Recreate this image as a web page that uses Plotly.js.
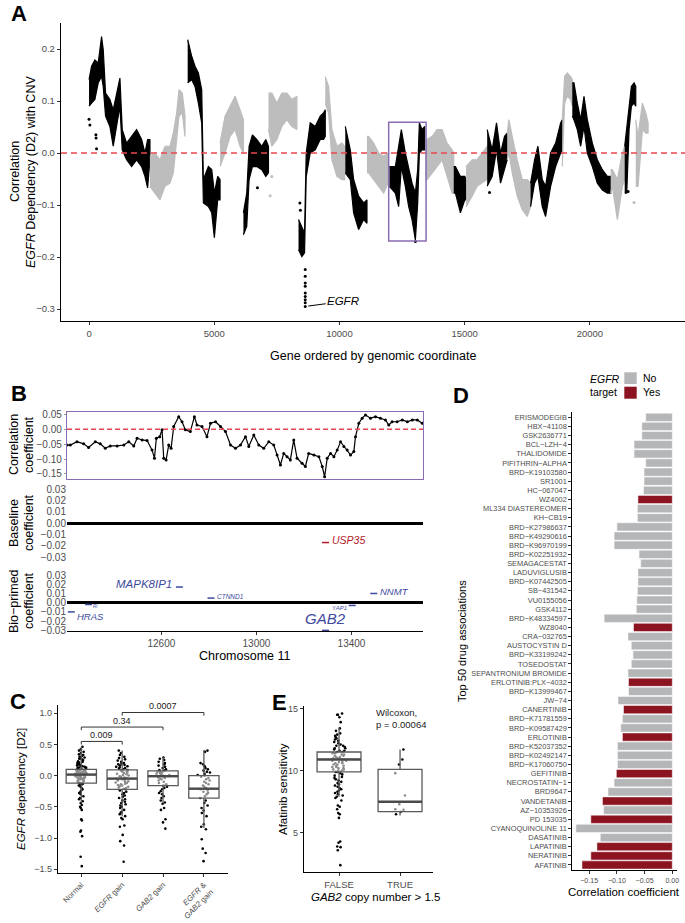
<!DOCTYPE html>
<html><head><meta charset="utf-8">
<script src="https://cdn.plot.ly/plotly-3.0.1.min.js"></script>
<style>html,body{margin:0;padding:0;background:#fff}#chart{width:685px;height:923px}</style>
</head><body><div id="chart"></div>
<script>
// ================= DATA =================
// Panel A: genome-wide correlation, read as band (upper / lower edge) per chromosome segment
const segA = [0,0,0,0,0,0,0,0,0,0,0,0,0,0,0,0,0,0,0,
 1,1,1,1,1,1,1,1,1,1,
 2,2,2,2,2,2,2,2,2,2,2,
 3,3,3,3,3,3,
 4,4,4,4,4,4,4,4,
 5,5,5,5,5,5,5,
 6,6,6,6,6,6,6,6,6,
 7,7,7,7,7,7,
 8,8,8,8,8,8,
 9,9,9,9,9,9,
 10,10,10,10,10,10,10,10,10,10,10,10,
 11,11,11,11,11,11,11,11,
 12,12,12,12,12,
 13,13,13,13,13,
 14,14,14,14,14,14,
 15,15,15,15,15,15,15,
 16,16,16,16,16,16,16,16,16,
 17,17,17,17,17,
 18,18,18,18,18,18,18,18,18,18,18,
 19,19,19,19,19,
 20,20,20,20,20,20,
 21,21,21,21,21];
const geneA = [0,100,233,366,500,566,660,833,966,1100,1233,1326,1500,1700,1899,2099,2233,2339,2432,
 2432,2632,2832,3032,3232,3366,3499,3592,3725,3832,
 3939,4099,4232,4366,4499,4566,4765,4899,5005,5138,5232,
 5232,5432,5632,5832,6032,6165,
 6165,6298,6392,6525,6698,6898,7058,7165,
 7165,7300,7500,7700,7900,8100,8300,
 8366,8500,8606,8673,8833,9033,9233,9366,9433,
 9433,9566,9699,9899,10099,10206,
 10233,10433,10566,10766,10966,11099,
 11099,11166,11366,11566,11766,11939,
 11992,12232,12365,12472,12632,12765,12899,13032,13125,13192,13299,13406,
 13432,13499,13699,13899,14099,14299,14499,14565,
 14565,14632,14832,15005,15058,
 15058,15298,15498,15698,15898,
 15900,16100,16273,16433,16593,16700,
 16700,16766,16900,17100,17300,17500,17633,
 17633,17793,17926,18099,18233,18433,18633,18833,18899,
 18899,18993,19099,19233,19299,
 19299,19366,19499,19633,19766,19899,20099,20299,20499,20699,20832,
 20832,20899,21099,21299,21392,
 21392,21473,21566,21659,21766,21833,
 21833,21926,22099,22233,22326];
const hiA = [0.141,0.167,0.179,0.173,0.224,0.199,0.115,0.103,0.083,0.115,0.144,0.045,0.019,0.032,0.045,0.026,0.0,0.026,0.026,
 -0.006,0.0,-0.013,0.013,0.013,0.038,0.077,0.122,0.115,0.071,
 0.218,0.186,0.167,0.154,0.122,-0.051,-0.026,-0.032,-0.077,-0.045,-0.051,
 0.019,0.071,0.090,0.109,0.083,0.064,
 -0.115,-0.077,0.013,0.035,0.026,0.013,0.026,0.013,
 0.115,0.115,0.096,0.115,0.115,0.103,0.109,
 -0.128,-0.141,-0.154,0.0,0.058,0.051,0.071,0.077,0.083,
 0.147,0.128,0.045,0.013,0.019,0.013,
 0.051,0.006,-0.051,-0.083,-0.096,-0.090,
 0.032,0.032,0.019,0.0,-0.006,0.0,
 -0.026,-0.026,0.013,0.045,0.0,-0.032,-0.058,-0.077,-0.032,0.058,0.045,0.051,
 0.026,0.026,0.032,0.045,0.045,0.019,0.006,0.0,
 -0.026,-0.026,-0.045,-0.045,-0.051,
 -0.026,-0.013,-0.013,0.0,0.013,
 0.045,0.006,0.058,0.0,0.032,0.038,
 0.038,0.064,0.032,-0.013,-0.051,-0.051,-0.058,
 -0.058,-0.013,0.013,-0.051,-0.064,0.0,0.019,0.058,0.064,
 0.064,0.147,0.154,0.147,0.141,
 0.135,0.135,0.096,0.064,0.109,0.064,0.019,-0.013,-0.032,-0.045,-0.045,
 -0.032,-0.032,-0.051,0.0,0.013,
 0.013,0.045,0.090,0.128,0.135,0.128,
 0.064,0.032,0.096,0.077,0.058];
const loA = [0.090,0.096,0.103,0.135,0.147,0.128,0.071,0.051,0.013,0.051,0.090,0.006,-0.013,-0.026,-0.013,-0.026,-0.045,-0.067,-0.013,
 -0.064,-0.077,-0.090,-0.064,-0.058,-0.038,0.026,0.071,0.077,0.032,
 0.135,0.141,0.128,0.096,0.058,-0.096,-0.103,-0.115,-0.163,-0.090,-0.090,
 -0.026,0.0,0.032,0.045,0.013,0.0,
 -0.157,-0.141,-0.051,-0.026,-0.026,-0.032,-0.045,-0.038,
 0.045,0.013,0.026,0.051,0.064,0.051,0.045,
 -0.186,-0.199,-0.192,-0.045,0.0,0.006,0.026,0.026,0.032,
 0.096,0.077,-0.013,-0.045,-0.051,-0.051,
 -0.038,-0.051,-0.115,-0.147,-0.128,-0.135,
 -0.038,-0.038,-0.051,-0.064,-0.077,-0.058,
 -0.064,-0.077,-0.103,-0.026,-0.064,-0.103,-0.128,-0.167,-0.096,0.0,0.006,0.006,
 -0.051,-0.051,-0.038,-0.026,-0.013,-0.045,-0.077,-0.077,
 -0.077,-0.077,-0.115,-0.090,-0.090,
 -0.103,-0.083,-0.064,-0.058,-0.051,
 -0.064,-0.045,0.006,-0.058,-0.032,-0.013,
 -0.013,0.0,-0.038,-0.083,-0.109,-0.122,-0.103,
 -0.103,-0.058,-0.045,-0.103,-0.122,-0.064,-0.026,0.0,0.0,
 -0.026,0.096,0.109,0.103,0.090,
 0.071,0.064,0.045,0.013,0.051,0.0,-0.026,-0.058,-0.071,-0.077,-0.077,
 -0.077,-0.064,-0.128,-0.064,-0.051,
 -0.077,-0.077,0.045,0.090,0.096,0.090,
 -0.064,-0.064,0.045,0.038,0.038];
// isolated points (0 = black chromosome, 1 = grey chromosome)
const outGeneA = [8633,8633,8633,8633,8633,8633,8633,8633,8633,8420,8440,0,33,273,280,300,6725,13032,15993,21526,7233,7300,21766];
const outValA  = [-0.224,-0.237,-0.250,-0.256,-0.269,-0.276,-0.282,-0.288,-0.295,-0.096,-0.110,0.065,0.054,0.035,0.029,0.008,-0.067,-0.170,-0.076,-0.074,-0.082,-0.045,-0.095];
const outSegA  = [0,0,0,0,0,0,0,0,0,0,0,0,0,0,0,0,0,0,0,0,1,1,1];
const egfrGene = 8633, egfrVal = -0.295;
const boxA = {x0: 11966, x1: 13459, y0: -0.169, y1: 0.059};

// Panel B: chromosome 11 zoom
const geneB = [12203,12217,12245,12273,12294,12322,12343,12364,12385,12414,12442,12463,12484,12498,12519,12540,12561,12571,12579,12593,12603,12610,12620,12631,12641,12652,12673,12687,12701,12722,12739,12750,12771,12792,12807,12828,12849,12870,12891,12912,12933,12954,12968,12989,13010,13031,13052,13073,13087,13101,13115,13129,13143,13157,13171,13192,13206,13220,13242,13263,13277,13287,13298,13312,13326,13340,13354,13368,13382,13396,13410,13417,13431,13445,13459,13480,13501,13522,13543,13557,13571,13592,13614,13635,13656,13677,13698];
const corrB = [-0.053,-0.053,-0.042,-0.049,-0.061,-0.042,-0.049,-0.064,-0.056,-0.056,-0.053,-0.042,-0.056,-0.030,-0.036,-0.038,-0.070,-0.097,-0.030,-0.025,-0.002,-0.097,-0.103,-0.053,-0.064,0.009,0.042,0.025,-0.002,-0.008,0.042,0.014,0.009,-0.025,0.020,0.025,0.009,-0.008,-0.053,-0.064,-0.053,-0.025,-0.058,-0.019,-0.053,-0.064,-0.042,-0.053,-0.086,-0.120,-0.081,-0.092,-0.103,-0.036,-0.097,-0.114,-0.125,-0.081,-0.086,-0.092,-0.125,-0.159,-0.097,-0.081,-0.092,-0.070,-0.042,-0.058,-0.070,-0.086,-0.075,-0.025,0.020,0.037,0.048,0.037,0.042,0.037,0.031,0.014,0.025,0.025,0.031,0.025,0.031,0.031,0.020];
const baseGenes = ['USP35'];
const baseX = [13291];
const baseY = [-0.017];
const bioGenes = ['HRAS','RI','MAPK8IP1','CTNND1','GAB2','YAP1','NNMT'];
const bioX = [12221,12294,12676,12809,13291,13403,13494];
const bioY = [-0.010,-0.002,0.017,0.005,-0.030,-0.003,0.010];

// Panel C: EGFR dependency by copy-number group
const groupsC = ['Normal','<i>EGFR</i> gain','<i>GAB2</i> gain','<i>EGFR</i> &<br><i>GAB2</i> gain'];
const q1C  = [-0.12,-0.22,-0.16,-0.36];
const medC = [0.016,-0.048,-0.01,-0.21];
const q3C  = [0.10,0.09,0.075,0.0];
const lowC = [-0.44,-0.65,-0.43,-0.84];
const upC  = [0.46,0.40,0.30,0.41];
const ptsNormal = [0.46,0.42,0.4,0.38,0.36,0.34,0.33,0.31,0.3,0.29,0.28,0.27,0.26,0.25,0.24,0.23,0.22,0.21,0.2,0.19,0.18,0.18,0.17,0.16,0.15,0.15,0.14,0.13,0.13,0.12,0.11,0.11,0.1,0.1,0.09,0.09,0.08,0.08,0.07,0.07,0.06,0.06,0.05,0.05,0.05,0.04,0.04,0.03,0.03,0.03,0.02,0.02,0.02,0.01,0.01,0.01,0,0,0,-0.01,-0.01,-0.02,-0.02,-0.03,-0.03,-0.04,-0.04,-0.05,-0.06,-0.06,-0.07,-0.08,-0.09,-0.1,-0.11,-0.12,-0.13,-0.14,-0.15,-0.16,-0.18,-0.2,-0.22,-0.24,-0.26,-0.28,-0.3,-0.33,-0.36,-0.38,-0.41,-0.44,-0.47,-0.5,-0.52,-0.55,-0.7,-0.72,-0.88,-0.9,-0.97,-1.3,-1.45];
const ptsEgfr = [0.4,0.36,0.33,0.3,0.28,0.26,0.24,0.22,0.2,0.19,0.18,0.17,0.16,0.15,0.14,0.13,0.12,0.11,0.1,0.09,0.08,0.07,0.06,0.05,0.04,0.03,0.02,0.01,0,-0.01,-0.02,-0.03,-0.04,-0.05,-0.06,-0.07,-0.08,-0.09,-0.1,-0.11,-0.12,-0.13,-0.14,-0.15,-0.16,-0.17,-0.18,-0.19,-0.2,-0.21,-0.22,-0.24,-0.26,-0.28,-0.3,-0.32,-0.34,-0.36,-0.38,-0.4,-0.42,-0.44,-0.46,-0.48,-0.5,-0.52,-0.55,-0.58,-0.6,-0.62,-0.65,-0.68,-0.7,-0.8,-0.82,-0.95,-1.05,-1.12,-1.38];
const ptsGab2 = [0.29,0.27,0.25,0.22,0.2,0.18,0.16,0.14,0.12,0.1,0.09,0.08,0.07,0.06,0.05,0.04,0.03,0.02,0.01,0,-0.01,-0.02,-0.03,-0.04,-0.05,-0.06,-0.08,-0.1,-0.12,-0.14,-0.16,-0.18,-0.2,-0.22,-0.25,-0.28,-0.3,-0.33,-0.36,-0.4,-0.43,-0.45,-0.52,-0.55,-0.7,-0.75,-0.85];
const ptsBoth = [0.4,0.38,0.2,0.18,0.15,0.12,0.1,0.08,0.06,0.05,0.03,0.01,0,-0.02,-0.04,-0.06,-0.08,-0.1,-0.12,-0.14,-0.16,-0.18,-0.2,-0.22,-0.24,-0.26,-0.28,-0.3,-0.33,-0.36,-0.4,-0.44,-0.48,-0.52,-0.56,-0.6,-0.65,-0.78,-0.82,-0.86,-1.02,-1.17,-1.24,-1.37];
const compPairs = [[0,1],[0,2],[1,3]];
const compP = ['0.009','0.34','0.0007'];
const compY = [0.547,0.777,1.01];

// Panel D: top 50 drug associations
const drugs = ['ERISMODEGIB','HBX−41108','GSK2636771','BCL−LZH−4','THALIDOMIDE','PIFITHRIN−ALPHA','BRD−K19103580','SR1001','HC−067047','WZ4002','ML334 DIASTEREOMER','KH−CB19','BRD−K27986637','BRD−K49290616','BRD−K96970199','BRD−K02251932','SEMAGACESTAT','LADUVIGLUSIB','BRD−K07442505','SB−431542','VU0155056','GSK4112','BRD−K48334597','WZ8040','CRA−032765','AUSTOCYSTIN D','BRD−K33199242','TOSEDOSTAT','SEPANTRONIUM BROMIDE','ERLOTINIB:PLX−4032','BRD−K13999467','JW−74','CANERTINIB','BRD−K71781559','BRD−K09587429','ERLOTINIB','BRD−K52037352','BRD−K02492147','BRD−K17060750','GEFITINIB','NECROSTATIN−1','BRD9647','VANDETANIB','AZ−10353926','PD 153035','CYANOQUINOLINE 11','DASATINIB','LAPATINIB','NERATINIB','AFATINIB'];
const corrD = [-0.048,-0.055,-0.055,-0.069,-0.069,-0.048,-0.051,-0.051,-0.052,-0.062,-0.063,-0.063,-0.100,-0.105,-0.105,-0.060,-0.057,-0.062,-0.062,-0.063,-0.064,-0.065,-0.123,-0.070,-0.080,-0.074,-0.071,-0.074,-0.080,-0.079,-0.079,-0.098,-0.088,-0.090,-0.093,-0.090,-0.099,-0.099,-0.099,-0.101,-0.105,-0.116,-0.126,-0.124,-0.147,-0.174,-0.130,-0.136,-0.147,-0.163];
const egfrTarget = [0,0,0,0,0,0,0,0,0,1,0,0,0,0,0,0,0,0,0,0,0,0,0,1,0,0,0,0,0,1,0,0,1,0,0,1,0,0,0,1,0,0,1,0,1,0,0,1,1,1];

// Panel E: afatinib sensitivity by GAB2 copy number
const groupsE = ['FALSE','TRUE'];
const q1E = [9.9,6.7], medE = [10.9,7.5], q3E = [11.5,10.1], lowE = [7.9,6.4], upE = [13.45,11.7];
const ptsFalse = [14.6,14.5,14.5,14.3,13.9,13.4,13.2,13.0,12.9,12.8,12.7,12.6,12.5,12.4,12.3,12.2,12.1,12.0,12.0,11.9,11.8,11.8,11.7,11.6,11.6,11.5,11.5,11.4,11.4,11.3,11.3,11.2,11.2,11.1,11.1,11.0,11.0,10.9,10.9,10.9,10.8,10.8,10.7,10.7,10.6,10.6,10.5,10.5,10.4,10.4,10.3,10.3,10.2,10.2,10.1,10.1,10.0,10.0,9.9,9.9,9.8,9.7,9.6,9.5,9.4,9.3,9.2,9.1,9.0,8.9,8.8,8.7,8.6,8.5,8.4,8.3,8.2,8.1,8.0,7.9,7.8,7.6,7.2,7.1,6.9,6.6,6.5,6.2,4.3,4.2,3.9,3.85,3.6,2.4];
const ptsTrue = [11.7,10.9,10.5,9.8,8.0,7.3,6.9,6.85,6.7,6.5];
const wilcoxP = '0.00064';

// ================= STYLE / LAYOUT =================
const W = 685, H = 923;
const X = p => p / W, Y = p => 1 - p / H;
const FONT = 'Liberation Sans, Arial, Helvetica, sans-serif';
const TICK = '#4d4d4d';
const BLACK = '#000000', GREY = '#bdbdbd', RED = '#e8474c', PURPLE = '#8a6cb3';
const BAR_GREY = '#b5b6b8', BAR_RED = '#8b1420';
const BLUE = '#3d4a9e', DARKRED = '#b2182b';

const traces = [];

// ---- Panel A ----
const segIds = [...new Set(segA)];
segIds.forEach(s => {
  const idx = segA.map((v, i) => v === s ? i : -1).filter(i => i >= 0);
  const xs = idx.map(i => geneA[i]), hs = idx.map(i => hiA[i]), ls = idx.map(i => loA[i]);
  const col = s % 2 === 0 ? BLACK : GREY;
  traces.push({type:'scatter', mode:'lines', x: xs.concat(xs.slice().reverse()), y: hs.concat(ls.slice().reverse()),
    fill:'toself', fillcolor: col, line:{color: col, width: 1.2}, xaxis:'x', yaxis:'y', hoverinfo:'skip', showlegend:false});
});
traces.push({type:'scatter', mode:'markers', x: outGeneA, y: outValA, xaxis:'x', yaxis:'y',
  marker:{size:3, color: outSegA.map(s => s === 0 ? BLACK : GREY)}, hoverinfo:'skip', showlegend:false});

// ---- Panel B ----
traces.push({type:'scatter', mode:'lines+markers', x: geneB, y: corrB, xaxis:'x2', yaxis:'y2',
  line:{color:BLACK, width:1.2}, marker:{size:3, color:BLACK}, showlegend:false});
traces.push({type:'scatter', mode:'markers', x: baseX, y: baseY, xaxis:'x3', yaxis:'y3',
  marker:{symbol:'line-ew', size:5, line:{width:1.5, color:DARKRED}}, showlegend:false});
traces.push({type:'scatter', mode:'markers', x: bioX, y: bioY, xaxis:'x4', yaxis:'y4',
  marker:{symbol:'line-ew', size:5, line:{width:1.5, color:BLUE}}, showlegend:false});

// ---- Panel C ----
const ptsC = [ptsNormal, ptsEgfr, ptsGab2, ptsBoth];
const cx = [], cy = [];
ptsC.forEach((arr, g) => arr.forEach(v => { cx.push(g); cy.push(v); }));
traces.push({type:'box', x: cx, y: cy, xaxis:'x5', yaxis:'y5', boxpoints:'all', jitter:0.45, pointpos:0, width:0.74,
  line:{width:0, color:'rgba(0,0,0,0)'}, fillcolor:'rgba(0,0,0,0)', whiskerwidth:0,
  marker:{size:2.6, color:BLACK}, hoverinfo:'skip', showlegend:false});
traces.push({type:'box', x:[0,1,2,3], q1:q1C, median:medC, q3:q3C, lowerfence:lowC, upperfence:upC,
  xaxis:'x5', yaxis:'y5', width:0.74, boxpoints:false, whiskerwidth:0,
  line:{color:'#5a5a5a', width:1.3}, fillcolor:'rgba(255,255,255,0.55)', showlegend:false});
medC.forEach((m, g) => traces.push({type:'scatter', mode:'lines', x:[g-0.37, g+0.37], y:[m, m], xaxis:'x5', yaxis:'y5',
  line:{color:'#4a4a4a', width:2.4}, hoverinfo:'skip', showlegend:false}));

// ---- Panel E ----
const ex = [], ey = [];
[ptsFalse, ptsTrue].forEach((arr, g) => arr.forEach(v => { ex.push(g); ey.push(v); }));
traces.push({type:'box', x: ex, y: ey, xaxis:'x6', yaxis:'y6', boxpoints:'all', jitter:0.35, pointpos:0, width:0.72,
  line:{width:0, color:'rgba(0,0,0,0)'}, fillcolor:'rgba(0,0,0,0)', whiskerwidth:0,
  marker:{size:2.6, color:BLACK}, hoverinfo:'skip', showlegend:false});
traces.push({type:'box', x:[0,1], q1:q1E, median:medE, q3:q3E, lowerfence:lowE, upperfence:upE,
  xaxis:'x6', yaxis:'y6', width:0.72, boxpoints:false, whiskerwidth:0,
  line:{color:'#5a5a5a', width:1.3}, fillcolor:'rgba(255,255,255,0.55)', showlegend:false});
medE.forEach((m, g) => traces.push({type:'scatter', mode:'lines', x:[g-0.36, g+0.36], y:[m, m], xaxis:'x6', yaxis:'y6',
  line:{color:'#4a4a4a', width:2.4}, hoverinfo:'skip', showlegend:false}));

// ---- Panel D ----
traces.push({type:'bar', orientation:'h', x: corrD, y: drugs, xaxis:'x7', yaxis:'y7', width:0.9,
  marker:{color: egfrTarget.map(t => t ? BAR_RED : BAR_GREY), line:{color:'#ffffff', width:0.5}}, showlegend:false});

// ---- axes ----
const tf = (s) => ({family: FONT, size: s, color: TICK});
const baseAx = {showgrid:false, zeroline:false, ticks:'outside', ticklen:3, tickwidth:1, tickcolor:'#333', showline:true, linecolor:'#000', linewidth:1.2};

const layout = {
  width: W, height: H, margin:{l:0, r:0, t:0, b:0}, paper_bgcolor:'#fff', plot_bgcolor:'rgba(0,0,0,0)',
  font:{family: FONT, color:'#000'}, showlegend:false, boxmode:'overlay', barmode:'overlay',
  xaxis: Object.assign({}, baseAx, {domain:[X(61), X(685)], anchor:'y', range:[-1120, 23800], tickvals:[0,5000,10000,15000,20000], tickformat:'d', tickfont: tf(9.5)}),
  yaxis: Object.assign({}, baseAx, {domain:[Y(321), Y(23)], anchor:'x', range:[-0.323, 0.25], tickvals:[-0.3,-0.2,-0.1,0,0.1,0.2], tickformat:'.1f', tickfont: tf(9.5)}),
  xaxis2: {domain:[X(67), X(423)], anchor:'y2', range:[12203, 13701], showticklabels:false, ticks:'', showgrid:false, zeroline:false, showline:true, mirror:true, linecolor:PURPLE, linewidth:1.2},
  yaxis2: {domain:[Y(478.7), Y(412.3)], anchor:'x2', range:[-0.1658, 0.0567], tickvals:[-0.15,-0.1,-0.05,0,0.05], tickformat:'.2f', tickfont: tf(10), showgrid:false, zeroline:false, showline:true, mirror:true, linecolor:PURPLE, linewidth:1.2, ticks:'outside', ticklen:2, tickcolor:'#999'},
  xaxis3: {domain:[X(67), X(423)], anchor:'y3', range:[12203, 13701], visible:false},
  yaxis3: {domain:[Y(560), Y(487)], anchor:'x3', range:[-0.0324, 0.032], tickvals:[-0.03,-0.02,-0.01,0,0.01,0.02,0.03], tickformat:'.2f', tickfont: tf(10), showgrid:false, showline:false, ticks:'', zeroline:true, zerolinewidth:3, zerolinecolor:'#000'},
  xaxis4: Object.assign({}, baseAx, {domain:[X(67), X(423)], anchor:'y4', range:[12203, 13701], tickvals:[12600,13000,13400], tickformat:'d', tickfont: tf(10)}),
  yaxis4: {domain:[Y(631), Y(573)], anchor:'x4', range:[-0.0307, 0.0322], tickvals:[-0.03,-0.02,-0.01,0,0.01,0.02,0.03], tickformat:'.2f', tickfont: tf(10), showgrid:false, showline:false, ticks:'', zeroline:true, zerolinewidth:3, zerolinecolor:'#000'},
  xaxis5: Object.assign({}, baseAx, {domain:[X(58), X(228)], anchor:'y5', range:[-0.57, 3.59], tickvals:[0,1,2,3], ticktext: groupsC, tickangle:-45, tickfont: tf(7.8)}),
  yaxis5: Object.assign({}, baseAx, {domain:[Y(873), Y(705)], anchor:'x5', range:[-1.56, 1.13], tickvals:[-1.5,-1,-0.5,0,0.5,1], tickformat:'.1f', tickfont: tf(9)}),
  xaxis6: Object.assign({}, baseAx, {domain:[X(304), X(433)], anchor:'y6', range:[-0.574, 1.54], tickvals:[0,1], ticktext: groupsE, tickfont: tf(9.5)}),
  yaxis6: Object.assign({}, baseAx, {domain:[Y(872), Y(706)], anchor:'x6', range:[1.85, 15.2], tickvals:[5,10,15], tickfont: tf(9)}),
  xaxis7: Object.assign({}, baseAx, {domain:[X(572), X(677)], anchor:'y7', range:[-0.181, 0.0085], tickvals:[-0.15,-0.1,-0.05,0], tickformat:'.2f', tickfont: tf(7.1)}),
  yaxis7: Object.assign({}, baseAx, {domain:[Y(870), Y(411.7)], anchor:'x7', type:'category', categoryorder:'array', categoryarray: drugs, range:[49.55, -0.61], tickfont: tf(7.4), ticklen:2.5}),
  shapes: [], annotations: []
};

// Panel A shapes
layout.shapes.push({type:'line', xref:'x domain', yref:'y', x0:0, x1:1, y0:0, y1:0, line:{color:RED, width:1.6, dash:'6px,4px'}});
layout.shapes.push({type:'rect', xref:'x', yref:'y', x0:boxA.x0, x1:boxA.x1, y0:boxA.y0, y1:boxA.y1, line:{color:PURPLE, width:1.5}});
// Panel B dashed zero
layout.shapes.push({type:'line', xref:'x2 domain', yref:'y2', x0:0, x1:1, y0:0, y1:0, line:{color:RED, width:1.4, dash:'5px,3px'}});
// Panel C brackets
compPairs.forEach((p, i) => {
  const y = compY[i], d = 0.05;
  layout.shapes.push({type:'path', xref:'x5', yref:'y5', path:`M ${p[0]},${y-d} L ${p[0]},${y} L ${p[1]},${y} L ${p[1]},${y-d}`, line:{color:'#333', width:1}});
  layout.annotations.push({xref:'x5', yref:'y5', x:(p[0]+p[1])/2, y:y, xanchor:'center', yanchor:'bottom', yshift:-1, text: compP[i], showarrow:false, font:{size:9, color:'#222'}});
});
// Panel D legend
layout.shapes.push({type:'rect', xref:'paper', yref:'paper', x0:X(624.3), x1:X(636.7), y0:Y(384), y1:Y(372.3), fillcolor:BAR_GREY, line:{width:0}});
layout.shapes.push({type:'rect', xref:'paper', yref:'paper', x0:X(624.3), x1:X(636.7), y0:Y(398.7), y1:Y(386.7), fillcolor:BAR_RED, line:{width:0}});

const ann = (x, y, text, o) => layout.annotations.push(Object.assign({xref:'paper', yref:'paper', x:X(x), y:Y(y), text, showarrow:false, xanchor:'center', yanchor:'middle'}, o || {}));
// panel letters
const letter = {size:22, color:'#000', family:'Liberation Sans, Arial, sans-serif'};
ann(9, 14, '<b>A</b>', {xanchor:'left', font:letter});
ann(9, 393, '<b>B</b>', {xanchor:'left', font:letter});
ann(8, 701, '<b>C</b>', {xanchor:'left', font:letter});
ann(451, 395, '<b>D</b>', {xanchor:'left', font:letter});
ann(270, 702, '<b>E</b>', {xanchor:'left', font:letter});
// axis titles (one annotation per line)
ann(15, 172, 'Correlation', {textangle:-90, font:{size:12.5}});
ann(31, 172, '<i>EGFR</i> Dependency (D2) with CNV', {textangle:-90, font:{size:12.5}});
ann(373, 356, 'Gene ordered by genomic coordinate', {font:{size:12.5}});
ann(14, 445, 'Correlation', {textangle:-90, font:{size:12.5}});
ann(29, 445, 'coefficient', {textangle:-90, font:{size:12.5}});
ann(14, 523, 'Baseline', {textangle:-90, font:{size:12.5}});
ann(29, 523, 'coefficient', {textangle:-90, font:{size:12.5}});
ann(14, 601, 'Bio−primed', {textangle:-90, font:{size:12.5}});
ann(29, 601, 'coefficient', {textangle:-90, font:{size:12.5}});
ann(245, 656, 'Chromosome 11', {font:{size:12.5}});
ann(21, 789, '<i>EGFR</i> dependency [D2]', {textangle:-90, font:{size:11.5}});
ann(283, 789, 'Afatinib sensitivity', {textangle:-90, font:{size:11.5}});
ann(375, 897, '<i>GAB2</i> copy number > 1.5', {font:{size:11.5}});
ann(374, 712, 'Wilcoxon,', {xanchor:'left', font:{size:9.5, color:'#222'}});
ann(374, 724, 'p = ' + wilcoxP, {xanchor:'left', font:{size:9.5, color:'#222'}});
ann(462, 641, 'Top 50 drug associations', {textangle:-90, font:{size:11}});
ann(624, 892, 'Correlation coefficient', {font:{size:11.5}});
// legend text
ann(588, 379, '<i>EGFR</i>', {xanchor:'left', font:{size:10.5}});
ann(588, 392, 'target', {xanchor:'left', font:{size:10.5}});
ann(641, 378, 'No', {xanchor:'left', font:{size:10.5}});
ann(641, 392, 'Yes', {xanchor:'left', font:{size:10.5}});

// EGFR callout in A
layout.annotations.push({xref:'x', yref:'y', x: egfrGene, y: egfrVal, text:'<i>EGFR</i>', showarrow:true, arrowhead:0, arrowwidth:1, arrowcolor:'#000',
  ax: 38, ay: -5, standoff: 3, font:{size:11.5}});

// gene labels in B
const bioStyle = [
  {xanchor:'left', xshift:4, yshift:-5, size:9.5},
  {xanchor:'left', xshift:2, yshift:-2, size:4.5},
  {xanchor:'right', xshift:-5, yshift:3, size:11.5},
  {xanchor:'left', xshift:4, yshift:2, size:6.5},
  {xanchor:'center', xshift:0, yshift:12, size:15},
  {xanchor:'right', xshift:-3, yshift:-3, size:6},
  {xanchor:'left', xshift:4, yshift:2, size:9.5}
];
bioGenes.forEach((g, i) => {
  const s = bioStyle[i];
  layout.annotations.push({xref:'x4', yref:'y4', x: bioX[i], y: bioY[i], text:'<i>' + g + '</i>', showarrow:false,
    xanchor:s.xanchor, yanchor:'middle', xshift:s.xshift, yshift:s.yshift, font:{size:s.size, color:BLUE}});
});
baseGenes.forEach((g, i) => layout.annotations.push({xref:'x3', yref:'y3', x: baseX[i], y: baseY[i], text:'<i>' + g + '</i>', showarrow:false,
  xanchor:'left', yanchor:'middle', xshift:4, yshift:3, font:{size:10.5, color:DARKRED}}));

Plotly.newPlot('chart', traces, layout, {displayModeBar:false, staticPlot:true});
</script>
</body></html>
